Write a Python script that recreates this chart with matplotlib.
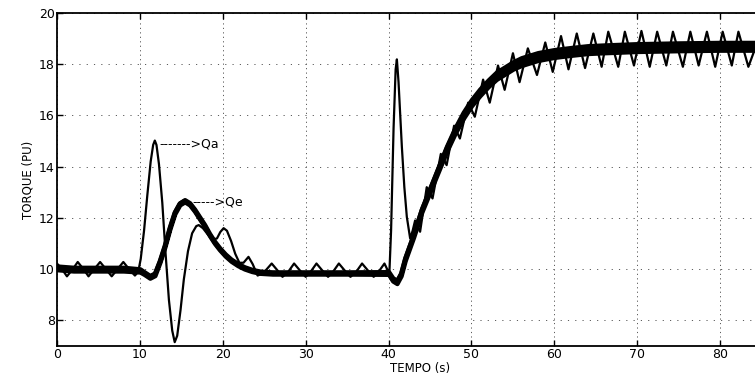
import numpy as np
import matplotlib
matplotlib.use("Agg")
import matplotlib.pyplot as plt

# Qa : thin oscillating torque trace
qa_t = [0.0, 0.6, 1.2, 1.9, 2.5, 3.2, 3.8, 4.5, 5.2, 5.9, 6.6, 7.3, 8.0, 8.7, 9.4, 9.8,
        10.1, 10.5, 10.9, 11.3, 11.6, 11.8, 12.0, 12.3, 12.7, 13.1, 13.5, 13.9, 14.2, 14.5,
        14.9, 15.3, 15.8, 16.3, 16.8, 17.1, 17.6, 18.2, 18.8, 19.3, 19.7, 20.1, 20.5, 21.0,
        21.5, 22.0, 22.5, 23.1, 23.6, 24.2, 24.9, 25.9, 26.6, 27.2, 27.9, 28.6, 29.3, 30.0,
        30.6, 31.3, 32.0, 32.7, 33.3, 34.0, 34.7, 35.4, 36.1, 36.8, 37.5, 38.2, 38.8, 39.5,
        39.9, 40.1, 40.3, 40.6, 40.85, 41.0, 41.2, 41.6, 41.9, 42.2, 42.6, 42.9, 43.2, 43.8,
        44.6, 45.3, 46.3, 47.0, 47.9, 48.6, 49.6, 50.4, 51.4, 52.2, 53.2, 54.0, 55.0, 55.8,
        56.8, 57.9, 58.9, 59.8, 60.8, 61.7, 62.7, 63.7, 64.7, 65.7, 66.5, 67.7, 68.5, 69.6,
        70.5, 71.5, 72.4, 73.5, 74.3, 75.5, 76.4, 77.4, 78.4, 79.4, 80.3, 81.4, 82.2, 83.4,
        84.2]
qa_val = [10.22, 10.0, 9.72, 10.0, 10.28, 10.0, 9.72, 10.0, 10.28, 10.0, 9.72, 10.0, 10.28, 10.0, 9.75, 9.9,
          10.4, 11.5, 12.9, 14.2, 14.85, 15.02, 14.85, 14.1, 12.6, 10.6, 8.8, 7.6, 7.15, 7.4,
          8.4, 9.6, 10.7, 11.4, 11.68, 11.72, 11.6, 11.35, 11.15, 11.2, 11.45, 11.6, 11.5, 11.1,
          10.6, 10.25, 10.25, 10.48, 10.2, 9.75, 9.85, 10.22, 9.95, 9.7, 9.9, 10.22, 9.95, 9.7,
          9.9, 10.22, 9.95, 9.7, 9.9, 10.22, 9.95, 9.7, 9.9, 10.22, 9.95, 9.7, 9.9, 10.22,
          9.95, 9.9, 11.5, 15.5, 17.8, 18.19, 17.3, 14.78, 13.2, 12.04, 11.2, 11.5, 11.9, 11.46,
          13.2, 12.76, 14.5, 14.06, 15.6, 15.1, 16.5, 15.95, 17.4, 16.5, 17.95, 17.0, 18.43, 17.3,
          18.62, 17.58, 18.85, 17.7, 19.1, 17.8, 19.2, 17.85, 19.2, 17.9, 19.27, 17.9, 19.27, 17.95,
          19.3, 17.9, 19.27, 17.95, 19.27, 17.9, 19.27, 17.95, 19.27, 17.9, 19.27, 17.95, 19.27, 17.9,
          18.6]

# Qe : thick (noisy) torque trace
qe_t = [0, 2, 4, 6, 8, 10, 10.5, 11.2, 11.8, 12.4, 13.0, 13.6, 14.2, 14.8, 15.4, 16.0,
        16.6, 17.2, 17.8, 18.4, 19.0, 19.6, 20.3, 21.0, 21.8, 22.6, 23.5, 24.5, 26, 30,
        35, 40, 40.5, 41.0, 41.5, 42, 43, 44, 45, 46, 47, 48, 49, 50, 51, 52, 53, 54, 55,
        56, 57, 58, 60, 62, 64, 66, 70, 75, 80, 85]
qe_val = [10.05, 10.0, 10.0, 10.0, 10.0, 9.95, 9.85, 9.7, 9.8, 10.3, 10.9, 11.6, 12.2, 12.55, 12.67, 12.55,
          12.3, 12.0, 11.7, 11.35, 11.05, 10.8, 10.55, 10.35, 10.18, 10.05, 9.95, 9.88, 9.85, 9.85,
          9.85, 9.85, 9.6, 9.5, 9.8, 10.4, 11.3, 12.3, 13.1, 13.9, 14.7, 15.4, 16.0, 16.5, 16.9,
          17.25, 17.55, 17.75, 17.95, 18.1, 18.2, 18.3, 18.42, 18.5, 18.57, 18.6, 18.65, 18.68, 18.7, 18.7]
# half height of the noise band around Qe
qe_band = [0.07, 0.07, 0.07, 0.07, 0.07, 0.06, 0.05, 0.05, 0.05, 0.04, 0.04, 0.04, 0.04, 0.04, 0.04, 0.04,
           0.04, 0.04, 0.04, 0.04, 0.04, 0.04, 0.04, 0.04, 0.04, 0.04, 0.04, 0.04, 0.04, 0.04,
           0.04, 0.05, 0.06, 0.06, 0.06, 0.06, 0.06, 0.07, 0.08, 0.09, 0.10, 0.11, 0.12, 0.12, 0.13,
           0.13, 0.14, 0.14, 0.14, 0.15, 0.15, 0.15, 0.15, 0.15, 0.15, 0.15, 0.15, 0.15, 0.15, 0.15]

qa_label = (12.3, 14.88)
qe_label = (16.3, 12.63)

plt.rcParams["font.family"] = "DejaVu Sans"
plt.rcParams["font.size"] = 9

fig = plt.figure(figsize=(7.55, 3.75), dpi=100)
ax = fig.add_axes([57 / 755, 29 / 375, 1 - 57 / 755, 333 / 375])

qe = np.array(qe_val)
band = np.array(qe_band)
ax.fill_between(qe_t, qe - band, qe + band, color="black", lw=3.2)
ax.plot(qe_t, qe, color="black", lw=3.2, solid_joinstyle="round")
ax.plot(qa_t, qa_val, color="black", lw=1.6, solid_joinstyle="round")

ax.text(qa_label[0], qa_label[1], "------->Qa", va="center", ha="left", fontsize=9)
ax.text(qe_label[0], qe_label[1], "----->Qe", va="center", ha="left", fontsize=9)

ax.set_xlim(0, 84.2)
ax.set_ylim(7, 20)
ax.set_xticks(range(0, 90, 10))
ax.set_yticks(range(8, 21, 2))

ax.xaxis.grid(True, color="0.35", lw=0.7, linestyle=(0, (1.2, 3.4)))
ax.yaxis.grid(True, color="0.35", lw=0.7, linestyle=(0, (1.2, 6.3)))
ax.set_axisbelow(True)

ax.spines["right"].set_visible(False)
for s in ["left", "bottom", "top"]:
    ax.spines[s].set_linewidth(1.3)
ax.tick_params(direction="in", top=True, length=4, width=1.0, pad=1.5, labelsize=9)

ax.set_xlabel("TEMPO (s)", fontsize=8.5)
ax.xaxis.set_label_coords((420.5 - 57) / (755 - 57), -0.047, transform=ax.transAxes)
ax.xaxis.label.set_va("top")
ax.set_ylabel("TORQUE (PU)", labelpad=3, fontsize=8.5)

fig.savefig("out.png", dpi=100)
